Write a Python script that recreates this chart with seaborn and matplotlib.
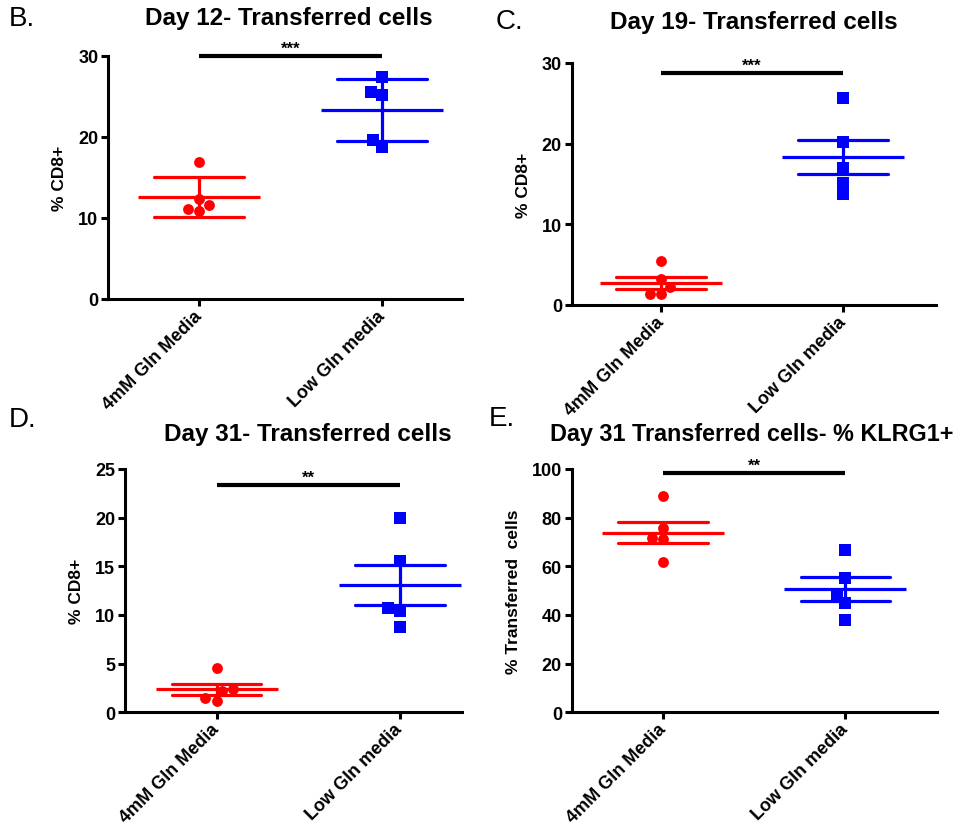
import numpy as np
import pandas as pd
import matplotlib
matplotlib.use("Agg")
import matplotlib.pyplot as plt
import seaborn as sns

# ---------------- data ----------------
CATEGORIES = ["4mM Gln Media", "Low Gln media"]

B_4mM = [16.9, 11.6, 10.9, 11.1, 12.3]
B_low = [27.4, 25.5, 25.1, 19.6, 18.8]
C_4mM = [5.5, 2.2, 1.4, 1.4, 3.2]
C_low = [25.6, 20.2, 17.0, 15.1, 13.7]
D_4mM = [4.55, 2.2, 1.2, 1.45, 2.4]
D_low = [20.0, 15.5, 10.7, 10.4, 8.8]
E_4mM = [89.0, 75.8, 71.6, 71.2, 61.9]
E_low = [66.6, 55.3, 47.9, 44.8, 38.1]

PANEL_DATA = [(B_4mM, B_low), (C_4mM, C_low), (D_4mM, D_low), (E_4mM, E_low)]

LETTERS = ["B.", "C.", "D.", "E."]
TITLES = ["Day 12- Transferred cells", "Day 19- Transferred cells",
          "Day 31- Transferred cells", "Day 31 Transferred cells- % KLRG1+"]
YLABELS = ["% CD8+", "% CD8+", "% CD8+", "% Transferred  cells"]
YTICKS = [[0, 10, 20, 30], [0, 10, 20, 30], [0, 5, 10, 15, 20, 25],
          [0, 20, 40, 60, 80, 100]]
ERRORBARS = ["sd", "se", "se", "se"]
SIG_LABELS = ["***", "***", "**", "**"]
SIG_Y = [30, 28.8, 23.4, 98.4]

# ---------------- style / layout ----------------
COLORS = ["#FF0000", "#0000FF"]
MARKERS = ["o", "s"]
W, H = 960, 829
# axes rectangles in pixels: left, right, top, bottom
AX_PX = [(108, 462, 56.7, 300), (571.7, 936, 64, 306),
         (125, 462, 470, 713.3), (571.7, 936.7, 470, 713.3)]
XLIMS = [(-0.497, 1.437), (-0.49, 1.51), (-0.5, 1.34), (-0.5, 1.5)]
TITLE_PX = [(289, 18), (754, 22), (308, 435), (752, 435)]
TITLE_SIZE = [17.5, 17.5, 17.5, 16.8]
LETTER_PX = [(9, 19), (496, 22), (9, 420), (489, 419)]

sns.set_theme(style="ticks")
plt.rcParams["font.family"] = ["Liberation Sans", "DejaVu Sans"]
plt.rcParams.update({
    "axes.linewidth": 2.2,
    "text.color": "black",
    "axes.labelcolor": "black",
    "axes.edgecolor": "black",
    "xtick.color": "black",
    "ytick.color": "black",
})

fig = plt.figure(figsize=(W / 100, H / 100), dpi=100)

for i in range(4):
    l, r, t, b = AX_PX[i]
    ax = fig.add_axes([l / W, 1 - b / H, (r - l) / W, (b - t) / H])
    g1, g2 = PANEL_DATA[i]
    df = pd.DataFrame({
        "group": [CATEGORIES[0]] * len(g1) + [CATEGORIES[1]] * len(g2),
        "value": list(g1) + list(g2),
    })
    pal = dict(zip(CATEGORIES, COLORS))

    sns.pointplot(data=df, x="group", y="value", hue="group", order=CATEGORIES,
                  hue_order=CATEGORIES, palette=pal, errorbar=ERRORBARS[i],
                  capsize=0.49, markers="_", linestyles="none",
                  markersize=88, markeredgewidth=2.3,
                  err_kws={"linewidth": 2.3}, legend=False, ax=ax, zorder=3)
    for cat, col, mk in zip(CATEGORIES, COLORS, MARKERS):
        sub = df[df["group"] == cat]
        sns.swarmplot(data=sub, x="group", y="value", order=CATEGORIES,
                      color=col, marker=mk, size=8.0 if mk == "s" else 7.8,
                      linewidth=0, ax=ax, zorder=4)

    ax.set_xlim(*XLIMS[i])
    ax.set_ylim(YTICKS[i][0], YTICKS[i][-1])
    ax.set_yticks(YTICKS[i])
    ax.set_yticklabels([str(v) for v in YTICKS[i]], fontsize=13, fontweight="bold")
    ax.set_xticks([0, 1])
    ax.set_xticklabels(CATEGORIES, fontsize=13, fontweight="bold",
                       rotation=45, ha="right", va="center", rotation_mode="anchor")
    ax.tick_params(axis="both", direction="out", length=5, width=2.2, colors="black",
                   pad=2)
    ax.tick_params(axis="x", pad=5)
    ax.set_xlabel("")
    ax.set_ylabel(YLABELS[i], fontsize=12.5, fontweight="bold", labelpad=8)
    sns.despine(ax=ax)

    # significance bar
    ax.plot([0, 1], [SIG_Y[i], SIG_Y[i]], color="black", lw=3, clip_on=False,
            solid_capstyle="butt")
    ax.text(0.5, SIG_Y[i], SIG_LABELS[i], ha="center", va="bottom",
            fontsize=12, fontweight="bold", transform=ax.transData)

    tx, ty = TITLE_PX[i]
    fig.text(tx / W, 1 - ty / H, TITLES[i], ha="center", va="center",
             fontsize=TITLE_SIZE[i], fontweight="bold")
    lx, ly = LETTER_PX[i]
    fig.text(lx / W, 1 - ly / H, LETTERS[i], ha="left", va="center", fontsize=20)

fig.savefig("out.png", dpi=100)
